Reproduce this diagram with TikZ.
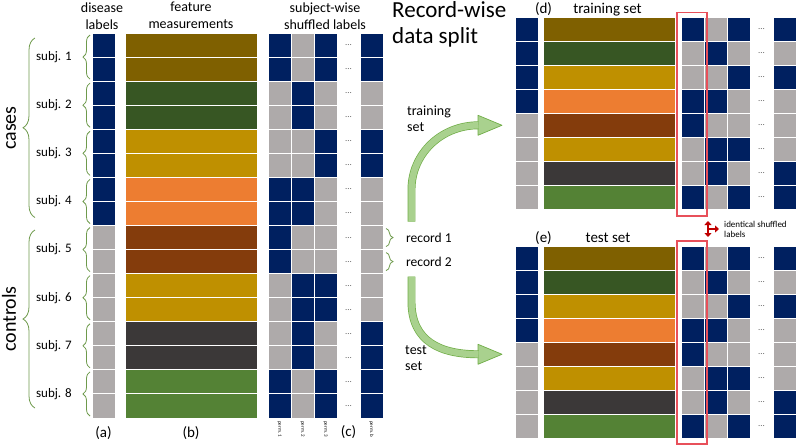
\documentclass[tikz,border=0pt]{standalone}
\usepackage{fontspec}
\setmainfont{Carlito}
\usetikzlibrary{calc,decorations.pathreplacing,arrows.meta}

\definecolor{lblue}{HTML}{002060}
\definecolor{lgrey}{HTML}{AEAAAA}
\definecolor{fOlive}{HTML}{7F6000}
\definecolor{fDkgreen}{HTML}{375623}
\definecolor{fGold}{HTML}{BF9000}
\definecolor{fOrange}{HTML}{ED7D31}
\definecolor{fBrown}{HTML}{843C0C}
\definecolor{fCoal}{HTML}{3B3838}
\definecolor{fGreen}{HTML}{548235}
\definecolor{braceGreen}{HTML}{6E9A4C}
\definecolor{arrowFill}{HTML}{A9D18E}
\definecolor{arrowLine}{HTML}{70AD47}
\definecolor{boxRed}{HTML}{E8505A}
\definecolor{markRed}{HTML}{C00000}

% subject / feature colour / label / perm. 1 / perm. 2 / perm. 3 / perm. b
\def\subjdata{1/fOlive/lblue/lblue/lgrey/lblue/lblue,
  2/fDkgreen/lblue/lgrey/lblue/lgrey/lgrey,
  3/fGold/lblue/lgrey/lgrey/lblue/lblue,
  4/fOrange/lblue/lblue/lblue/lgrey/lgrey,
  5/fBrown/lgrey/lblue/lgrey/lgrey/lgrey,
  6/fGold/lgrey/lgrey/lblue/lblue/lgrey,
  7/fCoal/lgrey/lgrey/lblue/lgrey/lblue,
  8/fGreen/lgrey/lblue/lgrey/lblue/lblue}

\tikzset{
  cell/.style={draw=white, line width=0.9pt, inner sep=0pt, outer sep=0pt, minimum height=24.06pt},
  labcell/.style={cell, minimum width=23pt},
  featcell/.style={cell, minimum width=132pt},
  permcell/.style={cell, minimum width=23pt},
  dotlab/.style={text=gray!80!black, font=\fontsize{9}{9}\selectfont, inner sep=0pt},
  hdr/.style={align=center, font=\fontsize{14}{17}\selectfont, inner sep=0pt},
  subjlab/.style={anchor=east, inner sep=1pt, font=\fontsize{13}{13}\selectfont},
  reclab/.style={anchor=west, inner sep=0pt, font=\fontsize{13.5}{13.5}\selectfont},
  sidelab/.style={rotate=90, anchor=base, inner sep=0pt, font=\fontsize{20}{20}\selectfont},
  botlab/.style={anchor=base, font=\fontsize{15}{15}\selectfont},
  setlab/.style={anchor=base, font=\fontsize{15}{15}\selectfont},
  permlab/.style={rotate=-90, anchor=west, inner sep=0pt, font=\fontsize{5}{5}\selectfont},
  brc/.style={draw=braceGreen, line width=0.8pt, decorate, decoration={brace, amplitude=#1}},
  band/.style={draw=arrowLine, line width=0.7pt, double=arrowFill, double distance=6.5pt},
  arrowhd/.style={fill=arrowFill, draw=arrowLine, line width=0.7pt, line join=round},
  redbox/.style={draw=boxRed, line width=1.2pt},
  markarr/.style={draw=markRed, line width=2.5pt},
}

\begin{document}
\begin{tikzpicture}[x=1pt,y=-1pt]
\useasboundingbox (0,0) rectangle (796,445);

% headers
\node[hdr] (hd-dl) at (102,16) {disease\\labels};
\node[hdr] (hd-fm) at (191,15) {feature\\measurements};
\node[hdr] (hd-pm) at (325,16) {subject-wise\\shuffled labels};
\node[anchor=north west, inner sep=0pt, align=left, font=\fontsize{23}{26}\selectfont] (ttl) at (392,1) {Record-wise\\data split};

% all subjects, two records each
\foreach \sj/\fc/\dc/\pa/\pb/\pc/\pd in \subjdata {
  \foreach \k in {1,2} {
    \pgfmathtruncatemacro\rw{2*\sj+\k-2}
    \pgfmathsetmacro\yc{33+(\rw-0.5)*24.0625}
    \node[labcell, fill=\dc] (dl-\rw) at (103.5,\yc) {};
    \node[featcell, fill=\fc] (fm-\rw) at (191,\yc) {};
    \node[permcell, fill=\pa] (pa-\rw) at (279.5,\yc) {};
    \node[permcell, fill=\pb] (pb-\rw) at (302.5,\yc) {};
    \node[permcell, fill=\pc] (pc-\rw) at (325.5,\yc) {};
    \node[dotlab] (dt-\rw) at (348.5,\yc) {...};
    \node[permcell, fill=\pd] (pn-\rw) at (371.5,\yc) {};
  }
  % subject brace
  \pgfmathtruncatemacro\ra{2*\sj-1}
  \pgfmathtruncatemacro\rb{2*\sj}
  \draw[brc=7pt] ($(dl-\rb.south west)+(-2,-2)$) -- ($(dl-\ra.north west)+(-2,2)$);
  \node[subjlab] (sl-\sj) at ($(dl-\ra.south west)+(-19,0)$) {subj. \sj};
}

% cases / controls
\draw[brc=12pt] ($(dl-8.south west)+(-57,-8)$) -- ($(dl-1.north west)+(-57,5)$);
\draw[brc=12pt] ($(dl-16.south west)+(-57,-10)$) -- ($(dl-9.north west)+(-57,4.5)$);
\node[sidelab] (cs) at (16,128) {cases};
\node[sidelab] (ct) at (16,319) {controls};

% bottom labels
\node[botlab] (lb-a) at (103.5,437) {(a)};
\node[botlab] (lb-b) at (191,437) {(b)};
\node[botlab] (lb-c) at (348.5,436) {(c)};
\foreach \nm/\xc in {1/279.5, 2/302.5, 3/325.5, b/371.5}
  \node[permlab] (pl-\nm) at (\xc,421) {perm. \nm};

% records of subject 5
\draw[brc=7pt] ($(pn-9.north east)+(3,3)$) -- ($(pn-9.south east)+(3,-3)$);
\draw[brc=7pt] ($(pn-10.north east)+(3,3)$) -- ($(pn-10.south east)+(3,-3)$);
\node[reclab] (rc-1) at ($(pn-9.east)+(23,0)$) {record 1};
\node[reclab] (rc-2) at ($(pn-10.east)+(23,0)$) {record 2};

% training and test set
\foreach \blk/\yo in {tr/17, te/246} {
  \foreach \sj/\fc/\dc/\pa/\pb/\pc/\pd in \subjdata {
    \pgfmathsetmacro\yc{\yo+(\sj-0.5)*24.0625}
    \node[labcell, fill=\dc] (\blk-dl-\sj) at (526.5,\yc) {};
    \node[featcell, fill=\fc] (\blk-fm-\sj) at (609,\yc) {};
    \node[permcell, fill=\pa] (\blk-pa-\sj) at (692.5,\yc) {};
    \node[permcell, fill=\pb] (\blk-pb-\sj) at (715.5,\yc) {};
    \node[permcell, fill=\pc] (\blk-pc-\sj) at (738.5,\yc) {};
    \node[dotlab] (\blk-dt-\sj) at (761.5,\yc) {...};
    \node[permcell, fill=\pd] (\blk-pn-\sj) at (784.5,\yc) {};
  }
}
\node[setlab] (st-d) at (543.5,13) {(d)};
\node[setlab] (st-tr) at (607.5,13) {training set};
\node[setlab] (st-e) at (543.5,242) {(e)};
\node[setlab] (st-te) at (608,242) {test set};

% same first permutation in both sets
\draw[redbox] ($(tr-pa-1.north west)+(-4,-4.5)$) rectangle ($(tr-pa-8.south east)+(3,6.5)$);
\draw[redbox] ($(te-pa-1.north west)+(-4,-5)$) rectangle ($(te-pa-8.south east)+(3,5.5)$);
\coordinate (id-up) at ($(tr-pa-8.south east)+(4,11.5)$);
\coordinate (id-dn) at ($(te-pa-1.north east)+(4,-9)$);
\draw[markarr, {Triangle[length=4pt, width=7pt]}-{Triangle[length=4pt, width=7pt]}] (id-up) -- (id-dn);
\draw[markarr, -{Triangle[length=4pt, width=7pt]}] ($(id-up)!0.5!(id-dn)$) -- ++(11,0);
\node[anchor=west, align=left, inner sep=0pt, font=\fontsize{9}{10}\selectfont] (id-lab) at ($(id-up)!0.5!(id-dn)+(16,0)$) {identical shuffled\\labels};

% split arrows
\coordinate (trn-start) at ($(pn-9.north east)+(28.5,-4)$);
\coordinate (tst-start) at ($(pn-10.south east)+(28.5,3)$);
\coordinate (trn-tip) at ($(tr-dl-5.west)+(-13,0)$);
\coordinate (tst-tip) at ($(te-dl-5.west)+(-13,0)$);
\filldraw[arrowhd] (trn-tip) -- ++(-24,-10) -- ++(0,20) -- cycle;
\filldraw[arrowhd] (tst-tip) -- ++(-24,-10) -- ++(0,20) -- cycle;
\draw[band] (trn-start) -- ++(0,-32) .. controls +(0,-35) and +(-38,0) .. ($(trn-tip)+(-23.5,0)$);
\draw[band] (tst-start) -- ++(0,25) .. controls +(0,40) and +(-38,0) .. ($(tst-tip)+(-23.5,0)$);
\node[anchor=north west, align=left, inner sep=0pt, font=\fontsize{14}{16}\selectfont] (lb-trn) at (407,106) {training\\set};
\node[anchor=north west, align=left, inner sep=0pt, font=\fontsize{14}{16}\selectfont] (lb-tst) at (405,345) {test\\set};
\end{tikzpicture}
\end{document}
